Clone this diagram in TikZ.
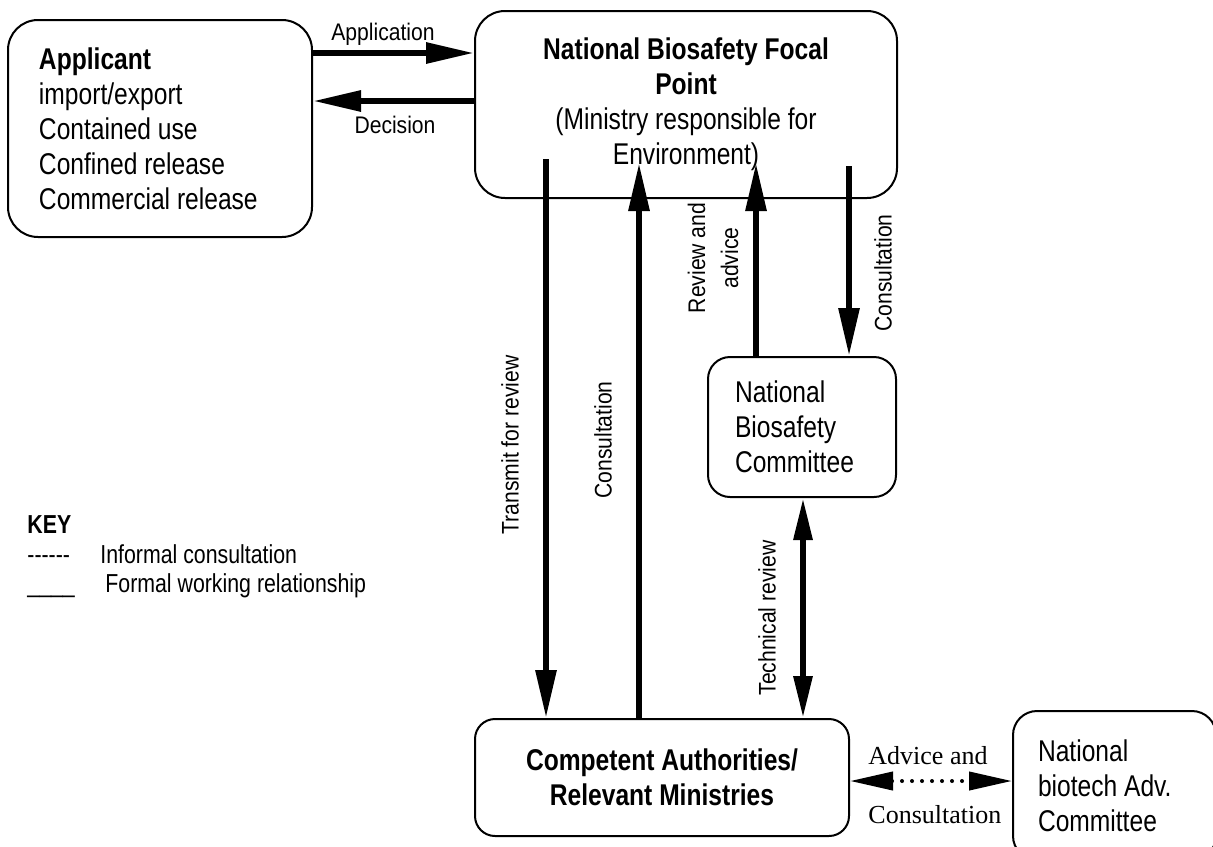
\documentclass[tikz,border=0pt]{standalone}
\usepackage{fontspec}
\setmainfont{Liberation Sans}
\newfontfamily\boxfont[FakeStretch=0.82]{Liberation Sans}
\newfontfamily\labelfont[FakeStretch=0.88]{Liberation Sans}
\newfontfamily\serifnote{Liberation Serif}
\usetikzlibrary{arrows.meta}

\begin{document}
\begin{tikzpicture}[x=0.5pt,y=-0.5pt,
	box/.style={draw, line width=1pt, inner sep=0pt, font=\boxfont\fontsize{15pt}{17.5pt}\selectfont},
	flow/.style={line width=3pt, -{Triangle[length=24pt,width=10pt]}},
	both/.style={line width=3pt, {Triangle[length=21pt,width=9pt]}-{Triangle[length=21pt,width=9pt]}},
	dotflow/.style={line width=2pt, line cap=round, dash pattern=on 0pt off 5pt, {Triangle[length=21.5pt,width=9pt]}-{Triangle[length=21.5pt,width=9pt]}},
	lbl/.style={inner sep=0pt, font=\labelfont\fontsize{12pt}{16.5pt}\selectfont},
	note/.style={inner sep=0pt, anchor=base west, font=\serifnote\fontsize{13pt}{15pt}\selectfont},
	keytext/.style={inner sep=0pt, anchor=base west, font=\boxfont\fontsize{13pt}{15pt}\selectfont}]
	\useasboundingbox (0,0) rectangle (1213,846);
	\clip (0,0) rectangle (1213,846);

	% boxes
	\node[box, rounded corners=15pt, inner xsep=15.5pt, text width=121pt, minimum height=108.5pt, align=flush left] (app) at (160,128.5)
		{\textbf{Applicant}\\import/export\\Contained use\\Confined release\\Commercial release};
	\node[box, rounded corners=15pt, minimum width=211pt, minimum height=93.5pt, align=center] (focal) at (686,104.5)
		{\textbf{National Biosafety Focal}\\\textbf{Point}\\(Ministry responsible for\\Environment)};
	\node[box, rounded corners=11pt, inner xsep=13.5pt, text width=67pt, minimum height=70pt, align=flush left] (nbc) at (802,427)
		{National\\Biosafety\\Committee};
	\node[box, rounded corners=10pt, minimum width=187pt, minimum height=58.5pt, align=center, font=\boxfont\bfseries\fontsize{15pt}{17.5pt}\selectfont] (comp) at (662,777.5)
		{Competent Authorities/\\Relevant Ministries};
	\node[box, rounded corners=12pt, inner xsep=12.5pt, text width=76.5pt, minimum height=74.5pt, align=flush left] (nbac) at (1114.5,785.5)
		{National\\biotech Adv.\\Committee};

	% free ends inside the focal point box
	\coordinate (transTop) at (546,159);
	\coordinate (consUp) at (639,163);
	\coordinate (revUp) at (756,163);
	\coordinate (consTop) at (849,166);

	\draw[flow] (app.east |- 0,53) -- (focal.west |- 0,53);
	\draw[flow] (focal.west |- 0,101) -- (app.east |- 0,101);
	\draw[flow] (transTop) -- (comp.north -| transTop);
	\draw[flow] (comp.north -| consUp) -- (consUp);
	\draw[flow] (nbc.north -| revUp) -- (revUp);
	\draw[flow] (consTop) -- (nbc.north -| consTop);
	\draw[both] (nbc.south -| 803,0) -- (comp.north -| 803,0);
	\draw[dotflow] (comp.east |- 0,781) -- (nbac.west |- 0,781);

	% labels
	\node[lbl, anchor=base] (lApp) at (383,40) {Application};
	\node[lbl, anchor=base] (lDec) at (395,133) {Decision};
	\node[lbl, rotate=90] (lTrans) at (510,445) {Transmit for review};
	\node[lbl, rotate=90] (lConsA) at (603,440) {Consultation};
	\node[lbl, rotate=90, align=center] (lRev) at (713,258) {Review and\\advice};
	\node[lbl, rotate=90] (lConsB) at (883,273) {Consultation};
	\node[lbl, rotate=90] (lTech) at (767,618) {Technical review};
	\node[note] (lAdv) at (868,764) {Advice and};
	\node[note] (lCons) at (868,823) {Consultation};

	% key
	\node[keytext, font=\boxfont\bfseries\fontsize{13pt}{15pt}\selectfont] (key) at (27,533) {KEY};
	\node[keytext] (keyDash) at (27,563) {-{}-{}-{}-{}-{}-};
	\node[keytext] (keyInf) at (100,563) {Informal consultation};
	\node[keytext] (keyLine) at (27,592) {\_\_\_\_};
	\node[keytext] (keyFor) at (105,592) {Formal working relationship};
\end{tikzpicture}
\end{document}
